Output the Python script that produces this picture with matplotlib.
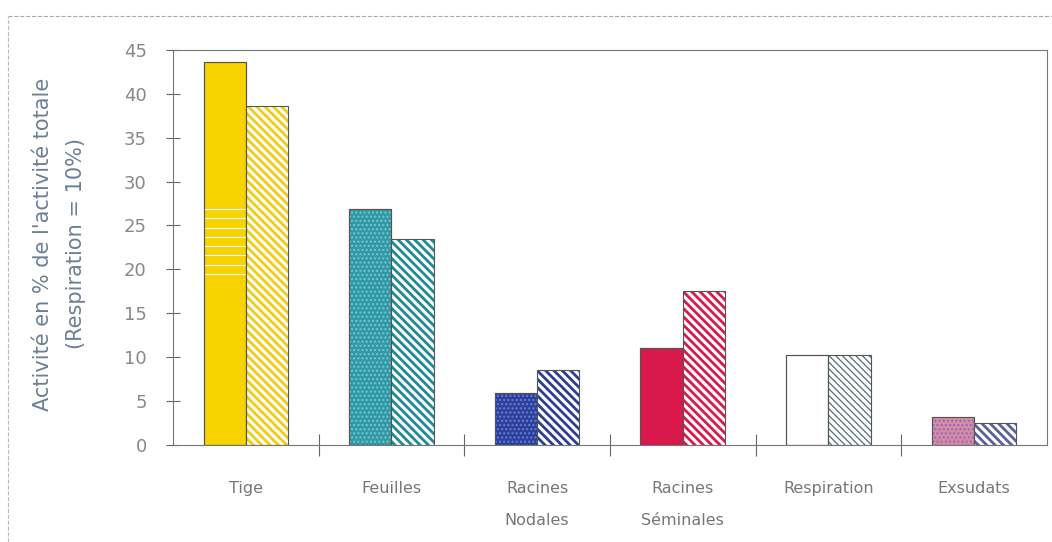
import numpy as np
import matplotlib.pyplot as plt
import matplotlib as mpl

categories = ["Tige", "Feuilles", "Racines\nNodales", "Racines\nSéminales", "Respiration", "Exsudats"]
solid_vals = [43.6, 26.9, 5.9, 11.0, 10.2, 3.2]
hatch_vals = [38.6, 23.5, 8.5, 17.5, 10.2, 2.5]
yticks = [0, 5, 10, 15, 20, 25, 30, 35, 40, 45]

solid_colors = ["#f7d300", "#2f9aa6", "#2c3f9c", "#d9184c", "#ffffff", "#d68aa6"]
hatch_colors = ["#f2cc10", "#1f8a96", "#2a3e96", "#d9184c", "#4f6f7a", "#5a5fa0"]
solid_hatch = [None, "....", "....", None, None, "...."]
solid_hcol = ["#f7d300", "#7cc4cc", "#6a7fd0", "#d9184c", "#888888", "#8a6fb8"]

mpl.rcParams["font.family"] = "DejaVu Sans"

fig = plt.figure(figsize=(10.52, 5.42), dpi=100)
ax = fig.add_axes([0.1645, 0.179, 0.8305, 0.729])

x = np.arange(len(categories)) + 0.5
w = 0.29
for i in range(len(categories)):
    ax.bar(x[i] - w / 2, solid_vals[i], w, color=solid_colors[i],
           edgecolor="#555555", linewidth=0.8, zorder=2)
    if solid_hatch[i]:
        mpl.rcParams["hatch.linewidth"] = 1.0
        ax.bar(x[i] - w / 2, solid_vals[i], w, color="none",
               edgecolor=solid_hcol[i], hatch=solid_hatch[i], linewidth=0, zorder=3)
    mpl.rcParams["hatch.linewidth"] = 0.9 if i == 4 else 2.0
    ax.bar(x[i] + w / 2, hatch_vals[i], w, color="white",
           edgecolor=hatch_colors[i], hatch="\\" * 4 if i != 4 else "\\" * 5,
           linewidth=0, zorder=2)
    ax.bar(x[i] - w / 2, solid_vals[i], w, color="none",
           edgecolor="#555555", linewidth=0.8, zorder=4)
    ax.bar(x[i] + w / 2, hatch_vals[i], w, color="none",
           edgecolor="#555555", linewidth=0.8, zorder=4)

# white stripes on the Tige bar, as in the scan
for yy in np.arange(19.5, 27.5, 1.05):
    ax.hlines(yy, x[0] - w, x[0], color="white", lw=0.8, zorder=3)

ax.set_xlim(0, 6)
ax.set_ylim(0, 45)
ax.set_yticks(yticks)
ax.set_yticklabels([str(v) for v in yticks], color="#888888", fontsize=13)
ax.tick_params(axis="y", direction="inout", length=10, width=0.8, color="#666666", pad=14)

ax.set_xticks([1, 2, 3, 4, 5])
ax.set_xticklabels([])
ax.tick_params(axis="x", which="major", direction="inout", length=16, width=0.8, color="#666666")
ax.set_xticks(x, minor=True)
ax.set_xticklabels(categories, minor=True, color="#777777", fontsize=11.5, linespacing=2.4)
ax.tick_params(axis="x", which="minor", length=0, pad=26)

for s in ax.spines.values():
    s.set_color("#777777")
    s.set_linewidth(0.8)

fig.text(0.041, 0.55, "Activité en % de l'activité totale", rotation=90,
         ha="center", va="center", color="#6c7f96", fontsize=15)
fig.text(0.072, 0.55, "(Respiration = 10%)", rotation=90,
         ha="center", va="center", color="#6c7f96", fontsize=15)

# faint dashed frame of the scanned page
fig.add_artist(plt.Line2D([0.008, 1.0], [0.97, 0.97], color="#aaaaaa", lw=0.8, ls="--"))
fig.add_artist(plt.Line2D([0.008, 0.008], [0.0, 0.97], color="#bbbbbb", lw=0.8, ls="--"))

fig.savefig("out.png", dpi=100)
